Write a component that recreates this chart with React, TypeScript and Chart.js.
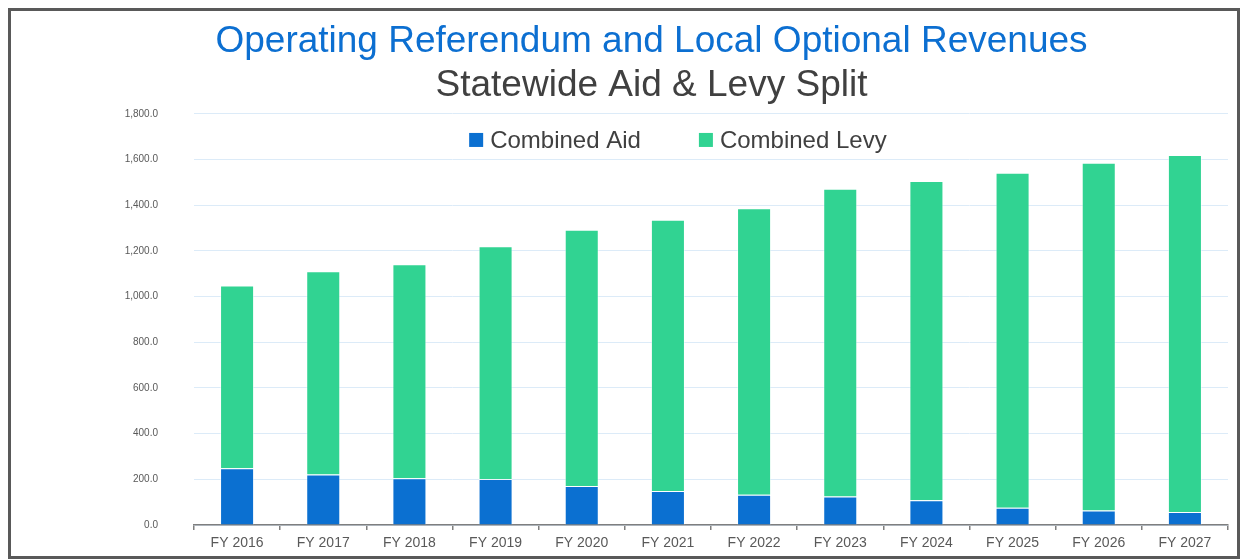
import React, { useEffect, useRef } from "react";
import { Chart, registerables } from "chart.js";

Chart.register(...registerables);

const categories = [
  "FY 2016", "FY 2017", "FY 2018", "FY 2019", "FY 2020", "FY 2021",
  "FY 2022", "FY 2023", "FY 2024", "FY 2025", "FY 2026", "FY 2027",
];
const aidValues = [249, 221, 205, 201, 171, 149, 132, 125, 108, 75, 63, 57];
const levyValues = [800, 890, 937, 1020, 1122, 1188, 1255, 1347, 1398, 1467, 1523, 1563];
const seriesLabels = ["Combined Aid", "Combined Levy"];
const seriesColors = ["#0b70d1", "#31d392"];
const yMin = 0;
const yMax = 1800;
const yStep = 200;
const titleText = "Operating Referendum and Local Optional Revenues";
const subtitleText = "Statewide Aid & Levy Split";

const FONT = '"Liberation Sans", Arial, sans-serif';
const CANVAS_W = 1171;
const CANVAS_H = 545;

const legendPlugin = {
  id: "customLegend",
  afterDraw(chart: any) {
    const { ctx, chartArea } = chart;
    const items = chart.data.datasets.map((ds: any) => ({
      text: ds.label as string,
      color: ds.backgroundColor as string,
    }));
    ctx.save();
    ctx.font = `24px ${FONT}`;
    const box = 14;
    const gapText = 7;
    const gapItem = 58;
    const widths = items.map((it: any) => ctx.measureText(it.text).width);
    const total =
      widths.reduce((a: number, w: number) => a + box + gapText + w, 0) +
      gapItem * (items.length - 1);
    let x = chartArea.left + chartArea.width * 0.468 - total / 2;
    const cy = chartArea.top + 26;
    ctx.textBaseline = "middle";
    ctx.textAlign = "left";
    items.forEach((it: any, i: number) => {
      ctx.fillStyle = it.color;
      ctx.fillRect(x, cy - 7, box, box);
      x += box + gapText;
      ctx.fillStyle = "#404040";
      ctx.fillText(it.text, x, cy + 1);
      x += widths[i] + gapItem;
    });
    ctx.restore();
  },
};

export default function App() {
  const ref = useRef<HTMLCanvasElement>(null);

  useEffect(() => {
    if (!ref.current) return;
    const chart = new Chart(ref.current, {
      type: "bar",
      data: {
        labels: categories,
        datasets: [
          {
            label: seriesLabels[0],
            data: aidValues,
            backgroundColor: seriesColors[0],
            borderColor: "rgba(255,255,255,0.45)",
            borderWidth: 1,
            categoryPercentage: 1,
            barPercentage: 0.395,
          },
          {
            label: seriesLabels[1],
            data: levyValues,
            backgroundColor: seriesColors[1],
            borderColor: "rgba(255,255,255,0.45)",
            borderWidth: 1,
            categoryPercentage: 1,
            barPercentage: 0.395,
          },
        ],
      },
      options: {
        animation: false,
        responsive: false,
        maintainAspectRatio: false,
        devicePixelRatio: 1,
        layout: { padding: { left: 9, right: 9, top: 0, bottom: 0 } },
        plugins: {
          legend: { display: false },
          tooltip: { enabled: false },
          title: {
            display: true,
            text: titleText,
            color: "#0c6fd1",
            font: { family: FONT, size: 37, weight: "normal" as any, lineHeight: 1.2 },
            padding: { top: 9, bottom: 0 },
          },
          subtitle: {
            display: true,
            text: subtitleText,
            color: "#404040",
            font: { family: FONT, size: 37, weight: "normal" as any, lineHeight: 1.15 },
            padding: { top: 0, bottom: 7 },
          },
        },
        scales: {
          x: {
            stacked: true,
            grid: {
              display: true,
              drawOnChartArea: false,
              drawTicks: true,
              tickLength: 5,
              color: "#7f7f7f",
              lineWidth: 1.5,
            },
            border: { display: true, color: "#7f7f7f", width: 1.5 },
            ticks: {
              color: "#595959",
              font: { family: FONT, size: 14, lineHeight: 1 },
              padding: 6,
              maxRotation: 0,
            },
          },
          y: {
            stacked: true,
            min: yMin,
            max: yMax,
            afterFit: (scale: any) => {
              scale.width = 119;
            },
            grid: {
              color: "#dcebf8",
              lineWidth: 1,
              drawTicks: true,
              tickLength: 33,
              tickColor: "rgba(0,0,0,0)",
            },
            border: { display: false },
            ticks: {
              stepSize: yStep,
              color: "#595959",
              font: { family: FONT, size: 10 },
              padding: 3,
              callback: (v: any) =>
                Number(v).toLocaleString("en-US", {
                  minimumFractionDigits: 1,
                  maximumFractionDigits: 1,
                }),
            },
          },
        },
      },
      plugins: [legendPlugin],
    });
    return () => chart.destroy();
  }, []);

  return (
    <div
      style={{
        position: "absolute",
        left: 8,
        top: 8,
        width: 1232,
        height: 551,
        border: "3px solid #595959",
        boxSizing: "border-box",
        background: "#fff",
        overflow: "hidden",
      }}
    >
      <canvas
        ref={ref}
        width={CANVAS_W}
        height={CANVAS_H}
        style={{ display: "block", marginLeft: 55, width: CANVAS_W, height: CANVAS_H }}
      />
    </div>
  );
}
